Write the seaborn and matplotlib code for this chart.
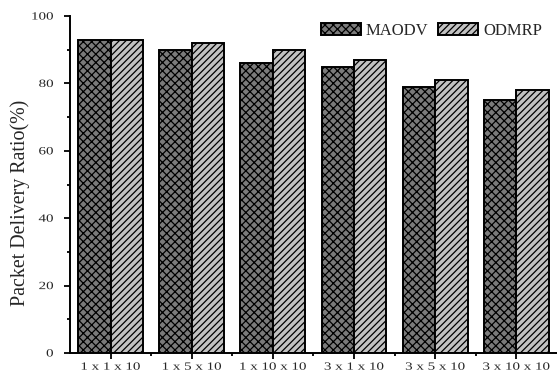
import matplotlib
matplotlib.use("Agg")
import matplotlib.pyplot as plt
import seaborn as sns
import pandas as pd
from matplotlib.ticker import MultipleLocator, FixedLocator
from matplotlib.patches import Patch
from matplotlib.patheffects import AbstractPathEffect
from matplotlib.transforms import Affine2D

categories = ["1 x 1 x 10", "1 x 5 x 10", "1 x 10 x 10", "3 x 1 x 10", "3 x 5 x 10", "3 x 10 x 10"]
maodv = [93, 90, 86, 85, 79, 75]
odmrp = [93, 92, 90, 87, 81, 78]
series = ["MAODV", "ODMRP"]

df = pd.DataFrame({
    "cat": categories * 2,
    "val": maodv + odmrp,
    "proto": ["MAODV"] * len(categories) + ["ODMRP"] * len(categories),
})


class StretchX(AbstractPathEffect):
    """Stretch rendered text horizontally around an anchor."""
    def __init__(self, sx, anchor="center"):
        super().__init__()
        self.sx = sx
        self.anchor = anchor

    def draw_path(self, renderer, gc, tpath, affine, rgbFace=None):
        ext = tpath.get_extents(affine)
        if self.anchor == "right":
            cx = ext.x1
        elif self.anchor == "left":
            cx = ext.x0
        else:
            cx = (ext.x0 + ext.x1) / 2
        t = affine + Affine2D().translate(-cx, 0).scale(self.sx, 1).translate(cx, 0)
        renderer.draw_path(gc, tpath, t, rgbFace)


sns.set_style("ticks")
plt.rcParams["font.family"] = ["Liberation Serif", "DejaVu Serif"]
plt.rcParams["hatch.linewidth"] = 0.9

fig = plt.figure(figsize=(5.57, 3.79), dpi=100)
ax = fig.add_axes([0.1257, 0.0686, 0.874, 0.889])

colors = {"MAODV": "#7b7b7b", "ODMRP": "#c2c2c2"}
hatches = {"MAODV": "xxxx", "ODMRP": "/////"}

sns.barplot(data=df, x="cat", y="val", hue="proto", palette=colors, ax=ax,
            width=0.8, edgecolor="black", linewidth=1.4, saturation=1, legend=False)

for cont, name in zip(ax.containers, series):
    for p in cont:
        p.set_hatch(hatches[name])

ax.set_xlim(-0.5, 5.5)
ax.set_ylim(0, 100)
ax.yaxis.set_major_locator(MultipleLocator(20))
ax.yaxis.set_minor_locator(MultipleLocator(10))
ax.xaxis.set_minor_locator(FixedLocator([0.5, 1.5, 2.5, 3.5, 4.5]))
ax.tick_params(axis="both", which="major", direction="out", length=4, width=1.3,
               labelsize=8, color="black", pad=3)
ax.tick_params(axis="both", which="minor", direction="out", length=2.5, width=1.3, color="black")
ax.tick_params(axis="y", which="major", pad=8)

for s in ["top", "right"]:
    ax.spines[s].set_visible(False)
for s in ["left", "bottom"]:
    ax.spines[s].set_linewidth(1.4)
    ax.spines[s].set_color("black")

ax.set_xlabel("")
ax.set_ylabel("Packet Delivery Ratio(%)", fontsize=14.4)
ax.yaxis.set_label_coords(-0.082, 0.447)

handles = [Patch(facecolor=colors[n], edgecolor="black", hatch=hatches[n], linewidth=1.4)
           for n in series]
leg = ax.legend(handles, series, loc="center right",
                bbox_to_anchor=(542 / 557, 1 - 31 / 379), bbox_transform=fig.transFigure,
                frameon=False, fontsize=12, ncol=2, handlelength=2.4, handleheight=0.75,
                columnspacing=0.6, handletextpad=0.3, borderpad=0, borderaxespad=0)

fig.canvas.draw()
for lbl in ax.get_yticklabels():
    lbl.set_path_effects([StretchX(1.35, "right")])
for lbl in ax.get_xticklabels():
    lbl.set_path_effects([StretchX(1.35, "center")])

fig.savefig("out.png", dpi=100)
